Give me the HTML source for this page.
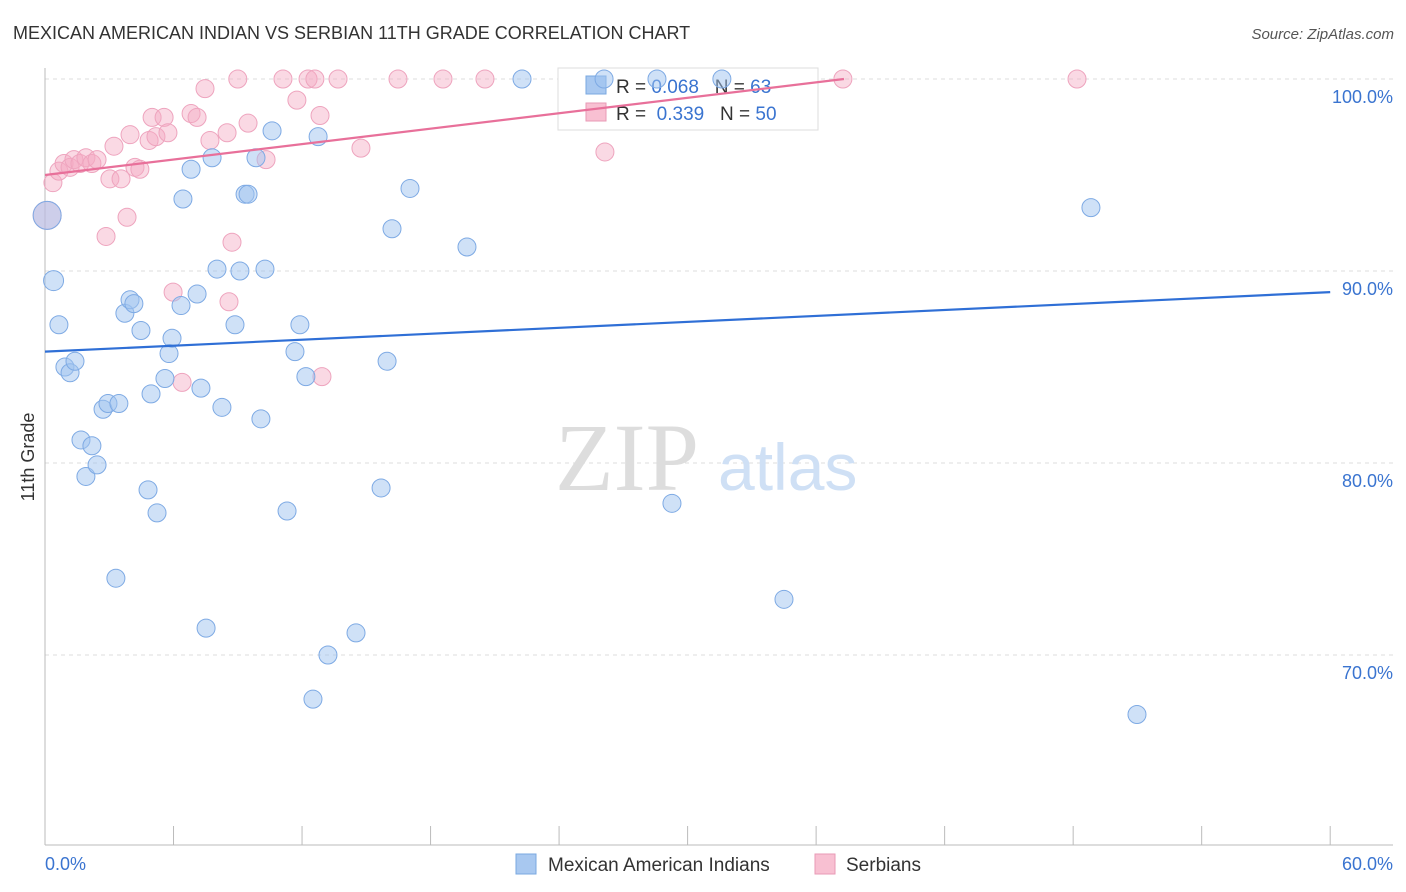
<!DOCTYPE html>
<html><head><meta charset="utf-8"><style>
body{margin:0;background:#fff;font-family:"Liberation Sans",sans-serif;}
svg{display:block}
</style></head><body>
<svg id="chart" width="1406" height="892">
<text x="13" y="39" font-size="18" fill="#333">MEXICAN AMERICAN INDIAN VS SERBIAN 11TH GRADE CORRELATION CHART</text>
<text x="1394" y="39" font-size="15" fill="#555" font-style="italic" text-anchor="end">Source: ZipAtlas.com</text>
<text x="34" y="457" font-size="18" fill="#333" transform="rotate(-90 34 457)" text-anchor="middle">11th Grade</text>
<g id="grid"></g>
<text x="555" y="490" font-size="96" fill="#ddd" font-family="Liberation Serif,serif">ZIP</text>
<text x="718" y="490" font-size="66" fill="#cfe0f5">atlas</text>
<g>
<rect x="558" y="68" width="260" height="62" fill="#fff" stroke="#ddd"/>
<rect x="586" y="76" width="20" height="18" fill="#a8c8f0" stroke="#7aa8e0"/>
<text x="616" y="93" font-size="19" fill="#333">R = <tspan fill="#3a74d0">0.068</tspan>&#160;&#160;&#160;N = <tspan fill="#3a74d0">63</tspan></text>
<rect x="586" y="103" width="20" height="18" fill="#f8c0d2" stroke="#e89ab6"/>
<text x="616" y="120" font-size="19" fill="#333">R = &#160;<tspan fill="#3a74d0">0.339</tspan>&#160;&#160;&#160;N = <tspan fill="#3a74d0">50</tspan></text>
</g>
<g id="pts"></g>
<g id="trends"></g>
<g>
<rect x="516" y="854" width="20" height="20" fill="#a8c8f0" stroke="#7aa8e0"/>
<text x="548" y="871" font-size="19" fill="#333">Mexican American Indians</text>
<rect x="815" y="854" width="20" height="20" fill="#f8c0d2" stroke="#e89ab6"/>
<text x="846" y="871" font-size="19" fill="#333">Serbians</text>
</g>
</svg>
<script>
const yTicks=[100,90,80,70];
const xTickLabels=["0.0%","60.0%"];
const blueX=[0.1,0.4,0.65,0.93,1.17,1.4,1.68,1.91,2.19,2.43,2.71,2.94,3.45,3.31,3.73,3.97,4.15,4.48,4.81,4.95,5.23,5.6,5.79,5.93,6.35,6.44,6.82,7.1,7.28,7.52,7.8,8.03,8.26,8.87,9.1,9.34,9.48,9.85,10.08,10.27,10.6,11.3,11.67,11.9,12.18,12.51,12.75,13.21,14.52,15.69,15.97,16.2,17.04,19.7,22.27,26.1,28.57,29.27,31.6,34.5,48.83,50.98];
const blueY=[92.9,89.5,87.2,85.0,84.7,85.3,81.2,79.3,80.9,79.9,82.8,83.1,83.1,74.0,87.8,88.5,88.3,86.9,78.6,83.6,77.4,84.4,85.7,86.5,88.2,93.75,95.3,88.8,83.9,71.4,95.9,90.1,82.9,87.2,90.0,94.0,94.0,95.9,82.3,90.1,97.3,77.5,85.8,87.2,84.5,67.7,97.0,70.0,71.15,78.7,85.3,92.2,94.3,91.25,100,100,100,77.9,100,72.9,93.3,66.9];
const pinkX=[0.1,0.37,0.65,0.89,1.17,1.35,1.63,1.91,2.19,2.43,2.85,3.03,3.22,3.55,3.83,3.97,4.2,4.43,4.86,5.0,5.18,5.56,5.74,5.98,6.4,6.82,7.1,7.47,7.7,8.5,8.59,8.73,9.0,9.48,10.32,11.11,11.76,12.28,12.6,12.84,12.93,13.68,14.75,16.48,18.58,20.54,26.14,37.25,48.18];
const pinkY=[92.9,94.6,95.2,95.6,95.4,95.8,95.6,95.9,95.6,95.8,91.8,94.8,96.5,94.8,92.8,97.1,95.4,95.3,96.8,98.0,97.0,98.0,97.2,88.9,84.2,98.2,98.0,99.5,96.8,97.2,88.4,91.5,100,97.7,95.8,100,98.9,100,100,98.1,84.5,100,96.4,100,100,100,96.2,100,100];
const blueTrendX=[0,60], blueTrendY=[85.8,88.9];
const pinkTrendX=[0,37.3], pinkTrendY=[95.0,100.0];
const X=v=>45+v*21.42, Y=v=>79+(100-v)*19.2;
const NS="http://www.w3.org/2000/svg";
function mk(t,a,p){const e=document.createElementNS(NS,t);for(const k in a)e.setAttribute(k,a[k]);p.appendChild(e);return e;}
const g=document.getElementById('grid');
yTicks.forEach(t=>{
 const l=mk('line',{x1:45,x2:1393,y1:Y(t),y2:Y(t),stroke:'#ddd','stroke-dasharray':'4,4'},g);
 
 
 const tx=mk('text',{x:1393,y:Y(t)+24,'font-size':18,fill:'#3a74d0','text-anchor':'end'},g);
 tx.textContent=t.toFixed(1)+'%';
 
 
});
const ax=mk('line',{x1:45,x2:1393,y1:845,y2:845,stroke:'#bbb'},g);


const ay=mk('line',{x1:45,x2:45,y1:68,y2:845,stroke:'#bbb'},g);


for(let i=0;i<=10;i++){
 const tk=mk('line',{x1:X(i*6),x2:X(i*6),y1:826,y2:845,stroke:'#bbb'},g);
 
 
}
const l0=mk('text',{x:45,y:870,'font-size':18,fill:'#3a74d0'},g);l0.textContent=xTickLabels[0];


const l1=mk('text',{x:1393,y:870,'font-size':18,fill:'#3a74d0','text-anchor':'end'},g);l1.textContent=xTickLabels[1];


const pg=document.getElementById('pts');
pinkX.forEach((x,i)=>{
 const c=mk('circle',{cx:X(x),cy:Y(pinkY[i]),r:i==0?14:9,fill:'rgba(245,170,195,0.45)',stroke:'#eea4be','stroke-width':1},pg);
 
 
});
blueX.forEach((x,i)=>{
 const c=mk('circle',{cx:X(x),cy:Y(blueY[i]),r:i==0?14:(i==1?10:9),fill:'rgba(160,196,240,0.5)',stroke:'#7eaae4','stroke-width':1},pg);
 
 
});
const tg=document.getElementById('trends');
const bt=mk('line',{x1:X(blueTrendX[0]),y1:Y(blueTrendY[0]),x2:X(blueTrendX[1]),y2:Y(blueTrendY[1]),stroke:'#2f6fd6','stroke-width':2.2},tg);


const pt=mk('line',{x1:X(pinkTrendX[0]),y1:Y(pinkTrendY[0]),x2:X(pinkTrendX[1]),y2:Y(pinkTrendY[1]),stroke:'#e8709a','stroke-width':2.2},tg);


</script>
</body></html>
